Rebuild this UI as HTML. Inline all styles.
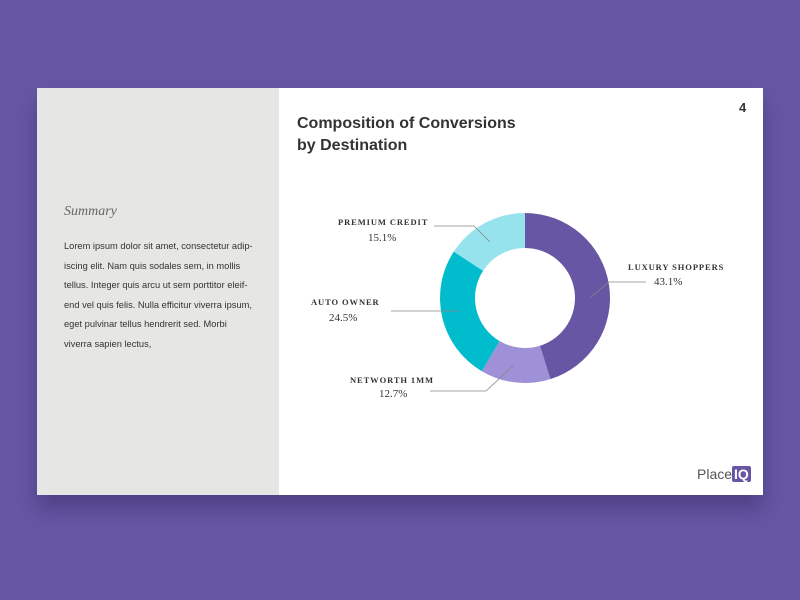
<!DOCTYPE html>
<html><head><style>
body{margin:0;width:800px;height:600px;background:#6656a4;position:relative;overflow:hidden;font-family:"Liberation Sans",sans-serif}
.card{position:absolute;left:37px;top:88px;width:726px;height:407px;background:#fff;box-shadow:0 14px 18px rgba(40,30,80,.35)}
.left{position:absolute;left:0;top:0;width:242px;height:407px;background:#e6e6e4}
.sum{position:absolute;left:27px;top:116px;font-family:"Liberation Serif",serif;font-style:italic;font-size:14px;color:#666}
.txt{position:absolute;left:27px;top:149px;width:215px;font-size:9.3px;line-height:19.6px;color:#333;white-space:nowrap}
.title{position:absolute;left:260px;top:25px;font-size:16px;font-weight:bold;color:#333;line-height:22px}
.num{position:absolute;left:702px;top:12px;font-size:13px;font-weight:bold;color:#333}
.logo{position:absolute;left:660px;top:378px;font-size:14px;color:#555}
.logo b{background:#6656a4;color:#fff;padding:0 2px;border-radius:2px}
svg{position:absolute;left:0;top:0}
.l{font-family:"Liberation Serif",serif;font-size:8.5px;letter-spacing:0.9px;fill:#333;font-weight:bold}
.p{font-family:"Liberation Serif",serif;font-size:11px;fill:#333}
</style></head><body>
<div class="card">
<div class="left"></div>
<div class="sum">Summary</div>
<div class="txt">Lorem ipsum dolor sit amet, consectetur adip-<br>iscing elit. Nam quis sodales sem, in mollis<br>tellus. Integer quis arcu ut sem porttitor eleif-<br>end vel quis felis. Nulla efficitur viverra ipsum,<br>eget pulvinar tellus hendrerit sed. Morbi<br>viverra sapien lectus,</div>
<div class="title">Composition of Conversions<br>by Destination</div>
<div class="num">4</div>
<div class="logo">Place<b>IQ</b></div>
</div>
<svg width="800" height="600" id="s">
<g id="d"></g>
<polyline points="590,298 609,282 646,282" fill="none" stroke="#888" stroke-width="0.8"/>
<polyline points="490,242 474,226 434,226" fill="none" stroke="#888" stroke-width="0.8"/>
<polyline points="460,311 391,311" fill="none" stroke="#888" stroke-width="0.8"/>
<polyline points="514,365 486,391 430,391" fill="none" stroke="#888" stroke-width="0.8"/>
<text class="l" x="338" y="225">PREMIUM CREDIT</text><text class="p" x="368" y="241">15.1%</text>
<text class="l" x="628" y="270">LUXURY SHOPPERS</text><text class="p" x="654" y="285">43.1%</text>
<text class="l" x="311" y="305">AUTO OWNER</text><text class="p" x="329" y="321">24.5%</text>
<text class="l" x="350" y="383">NETWORTH 1MM</text><text class="p" x="379" y="397">12.7%</text>
</svg>
<script>
var cx=525,cy=298,R=85,r=50,a=0,d=[[43.1,"#6656a4"],[12.7,"#9e91d8"],[24.5,"#00bccd"],[15.1,"#96e3ee"]],g=document.getElementById("d"),h="";
function pt(rad,ang){return [cx+rad*Math.sin(ang),cy-rad*Math.cos(ang)];}
d.forEach(function(s){var b=a+s[0]/95.4*2*Math.PI;var l=(b-a)>Math.PI?1:0;var p1=pt(R,a),p2=pt(R,b),p3=pt(r,b),p4=pt(r,a);
h+='<path fill="'+s[1]+'" d="M'+p1+' A'+R+','+R+' 0 '+l+' 1 '+p2+' L'+p3+' A'+r+','+r+' 0 '+l+' 0 '+p4+'Z"/>';a=b;});
g.innerHTML=h;
</script>
</body></html>
